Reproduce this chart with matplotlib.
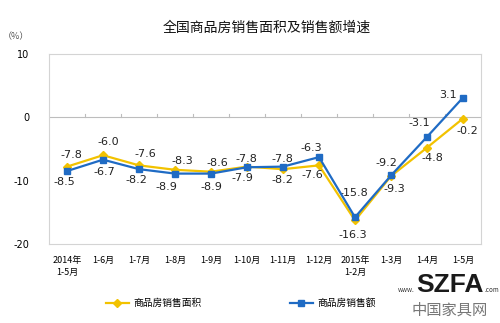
import matplotlib
matplotlib.use('Agg')
import matplotlib.pyplot as plt
from matplotlib.lines import Line2D

plt.rcParams['font.family'] = ['Noto Sans CJK SC', 'DejaVu Sans']

months = ['2014年\n1-5月', '1-6月', '1-7月', '1-8月', '1-9月', '1-10月', '1-11月',
          '1-12月', '2015年\n1-2月', '1-3月', '1-4月', '1-5月']
area = [-7.8, -6.0, -7.6, -8.3, -8.6, -7.8, -8.2, -7.6, -16.3, -9.3, -4.8, -0.2]
amount = [-8.5, -6.7, -8.2, -8.9, -8.9, -7.9, -7.8, -6.3, -15.8, -9.2, -3.1, 3.1]

# label offsets in pixels (dx, dy)
area_off = [(4, 12), (5, 13), (6, 11), (7, 9), (6, 9), (-1, 8), (-1, -11),
            (-7, -10), (-2, -15), (3, -13), (5, -10), (4, -12)]
amount_off = [(-3, -11), (1, -12), (-3, -11), (-9, -13), (0, -13), (-5, -11),
              (-1, 8), (-8, 9), (-1, 24), (-5, 12), (-8, 14), (-15, 3)]

yellow = '#F2C200'
blue = '#1F6BC4'

fig = plt.figure(figsize=(5, 3.23), dpi=100)
ax = fig.add_axes([0.098, 0.245, 0.864, 0.588])

x = list(range(len(months)))
ax.plot(x, area, color=yellow, lw=1.6, marker='D', ms=4, zorder=3)
ax.plot(x, amount, color=blue, lw=1.6, marker='s', ms=4.5, zorder=4)

for i in x:
    ax.annotate('%.1f' % area[i], (i, area[i]), xytext=area_off[i],
                textcoords='offset pixels', ha='center', va='center',
                fontsize=8, color='#222222', family='DejaVu Sans')
    ax.annotate('%.1f' % amount[i], (i, amount[i]), xytext=amount_off[i],
                textcoords='offset pixels', ha='center', va='center',
                fontsize=8, color='#222222', family='DejaVu Sans')

ax.set_xlim(-0.5, len(months) - 0.5)
ax.set_ylim(-20, 10)
ax.set_yticks([10, 0, -10, -20])
ax.set_yticklabels(['10', '0', '-10', '-20'], family='DejaVu Sans', fontsize=7)
ax.tick_params(axis='y', length=0, pad=14)
ax.set_xticks(x)
ax.set_xticklabels(months, fontsize=6.5, linespacing=1.3)
ax.tick_params(axis='x', length=0, pad=9)
for s in ax.spines.values():
    s.set_color('#d4d4d4')

# zero line with small upward ticks
ax.axhline(0, color='#bdbdbd', lw=0.8, zorder=1)
for b in range(1, len(months)):
    ax.plot([b - 0.5, b - 0.5], [0, 0.5], color='#bdbdbd', lw=0.8, zorder=1)

fig.text(0.534, 0.913, '全国商品房销售面积及销售额增速', ha='center', va='center',
         fontsize=10, color='#111111')
fig.text(0.032, 0.888, '（%）', ha='center', va='center', fontsize=6.5, color='#555555')

handles = [Line2D([], [], color=yellow, lw=1.6, marker='D', ms=4),
           Line2D([], [], color=blue, lw=1.6, marker='s', ms=4.5)]
fig.legend(handles, ['商品房销售面积', '商品房销售额'], loc='center',
           bbox_to_anchor=(0.482, 0.062), ncol=2, frameon=False, fontsize=7,
           handlelength=2.4, columnspacing=9, handletextpad=0.5)

# watermark
fig.text(0.9, 0.096, 'SZFA', ha='center', va='baseline', fontsize=19,
         fontweight='bold', family='Liberation Sans', color='#1a1a1a')
fig.text(0.83, 0.096, 'www.', ha='right', va='baseline', fontsize=4.5, color='#333333')
fig.text(0.97, 0.096, '.com', ha='left', va='baseline', fontsize=4.5, color='#333333')
fig.text(0.9, 0.04, '中国家具网', ha='center', va='center', fontsize=11,
         color='#777777')

fig.savefig('out.png', dpi=100)
